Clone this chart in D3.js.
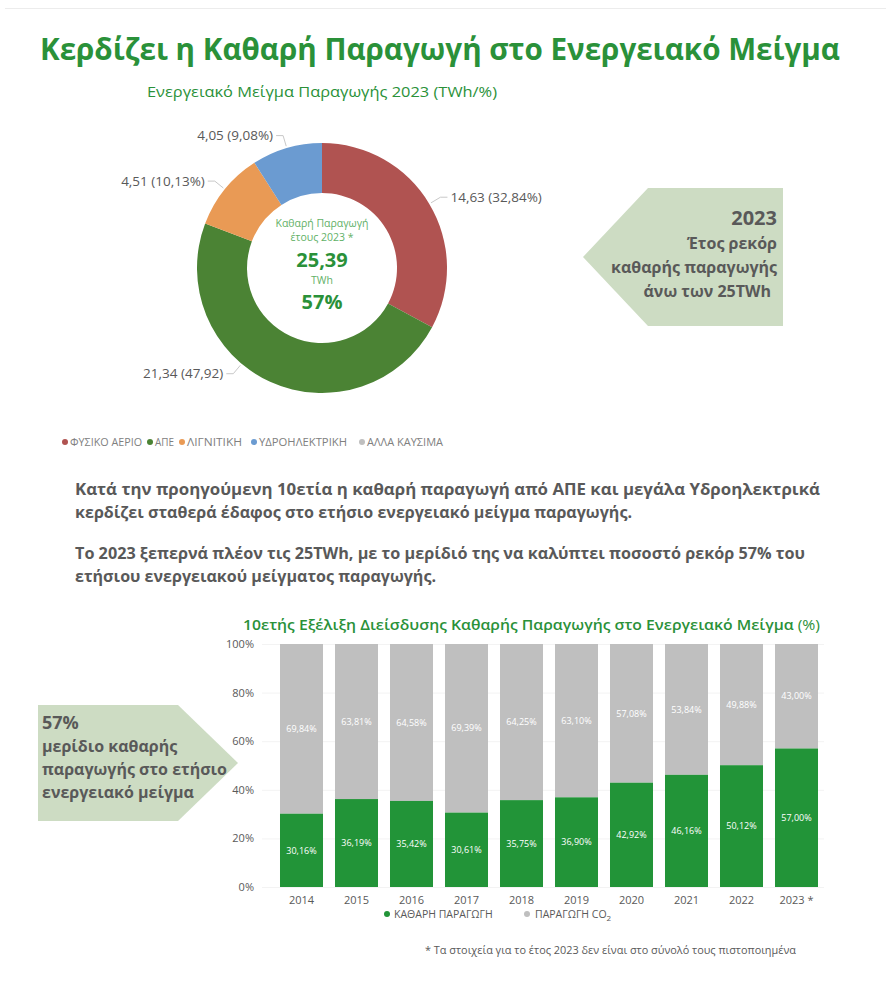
<!DOCTYPE html>
<html>
<head>
<meta charset="utf-8">
<script src="https://cdn.jsdelivr.net/npm/d3@7"></script>
<style>
  html, body { margin: 0; padding: 0; background: #fff; }
  svg { display: block; font-family: "Open Sans", "Noto Sans", sans-serif; }
</style>
</head>
<body>
<svg id="chart" width="895" height="1000"></svg>
<script>
// ---------- DATA ----------
const mixCategories = ["ΦΥΣΙΚΟ ΑΕΡΙΟ", "ΑΠΕ", "ΛΙΓΝΙΤΙΚΗ", "ΥΔΡΟΗΛΕΚΤΡΙΚΗ", "ΑΛΛΑ ΚΑΥΣΙΜΑ"];
const mixTWh = [14.63, 21.34, 4.51, 4.05, 0];
const mixLabels = ["14,63 (32,84%)", "21,34 (47,92)", "4,51 (10,13%)", "4,05 (9,08%)", ""];
const mixColors = ["#b05351", "#4b8334", "#e99a55", "#6b9bd1", "#bfbfbf"];

const years = ["2014", "2015", "2016", "2017", "2018", "2019", "2020", "2021", "2022", "2023 *"];
const cleanShare = [30.16, 36.19, 35.42, 30.61, 35.75, 36.90, 42.92, 46.16, 50.12, 57.00];
const co2Share = [69.84, 63.81, 64.58, 69.39, 64.25, 63.10, 57.08, 53.84, 49.88, 43.00];
const yTicks = [0, 20, 40, 60, 80, 100];
const barSeries = ["ΚΑΘΑΡΗ ΠΑΡΑΓΩΓΗ", "ΠΑΡΑΓΩΓΗ CO2"];
const barColors = ["#229438", "#bfbfbf"];

const GREEN = "#2a9139";
const GREY_TXT = "#595959";

const svg = d3.select("#chart");
const fmt = v => d3.format(".2f")(v).replace(".", ",") + "%";

// faint page frame line
svg.append("line").attr("x1", 5).attr("x2", 886).attr("y1", 8.5).attr("y2", 8.5)
  .attr("stroke", "#ececec").attr("stroke-width", 1);

// ---------- TITLE ----------
svg.append("text").attr("x", 40).attr("y", 60)
  .attr("font-size", 30).attr("font-weight", 700).attr("fill", GREEN)
  .attr("textLength", 800).attr("lengthAdjust", "spacingAndGlyphs")
  .text("Κερδίζει η Καθαρή Παραγωγή στο Ενεργειακό Μείγμα");

svg.append("text").attr("x", 147).attr("y", 97)
  .attr("font-size", 15).attr("font-weight", 400).attr("fill", GREEN)
  .attr("textLength", 350).attr("lengthAdjust", "spacingAndGlyphs")
  .text("Ενεργειακό Μείγμα Παραγωγής 2023 (TWh/%)");

// ---------- DONUT ----------
const cx = 322, cy = 268, rOuter = 125, rInner = 75;
const pie = d3.pie().sort(null).value(d => d.v);
const pieData = pie(mixCategories.map((c, i) => ({ c, v: mixTWh[i], label: mixLabels[i], color: mixColors[i] })));
const arc = d3.arc().innerRadius(rInner).outerRadius(rOuter);
const gPie = svg.append("g").attr("transform", `translate(${cx},${cy})`);
gPie.selectAll("path").data(pieData.filter(d => d.data.v > 0)).join("path")
  .attr("d", arc).attr("fill", d => d.data.color).attr("stroke", "none");

// label placement angle tweaks (layout only)
const labelAngleShift = { "ΑΠΕ": 0.27 };
pieData.filter(d => d.data.v > 0).forEach(d => {
  const a = (d.startAngle + d.endAngle) / 2 + (labelAngleShift[d.data.c] || 0);
  const p1 = [Math.sin(a) * (rOuter + 2), -Math.cos(a) * (rOuter + 2)];
  const p2 = [Math.sin(a) * (rOuter + 13), -Math.cos(a) * (rOuter + 13)];
  const right = Math.sin(a) > 0;
  const p3 = [p2[0] + (right ? 7 : -7), p2[1]];
  gPie.append("polyline").attr("points", [p1, p2, p3].map(p => p.join(",")).join(" "))
    .attr("fill", "none").attr("stroke", "#c8c8c8").attr("stroke-width", 1);
  gPie.append("text").attr("x", p3[0] + (right ? 3 : -3)).attr("y", p3[1])
    .attr("dy", "0.35em").attr("text-anchor", right ? "start" : "end")
    .attr("font-size", 13.5).attr("fill", GREY_TXT).text(d.data.label);
});

// centre text
const ctr = svg.append("g").attr("text-anchor", "middle");
ctr.append("text").attr("x", cx).attr("y", cy - 41).attr("font-size", 10.5).attr("fill", "#62b167").text("Καθαρή Παραγωγή");
ctr.append("text").attr("x", cx).attr("y", cy - 27).attr("font-size", 10.5).attr("fill", "#62b167").text("έτους 2023 *");
ctr.append("text").attr("x", cx).attr("y", cy - 1).attr("font-size", 20).attr("font-weight", 700).attr("fill", GREEN).text("25,39");
ctr.append("text").attr("x", cx).attr("y", cy + 16).attr("font-size", 10.5).attr("fill", "#62b167").text("TWh");
ctr.append("text").attr("x", cx).attr("y", cy + 41).attr("font-size", 20).attr("font-weight", 700).attr("fill", GREEN).text("57%");

// donut legend
const legMarkX = [65, 150, 182, 254, 362];
const legTextW = [72, 19, 55, 88, 76];
const gLeg = svg.append("g");
mixCategories.forEach((c, i) => {
  gLeg.append("circle").attr("cx", legMarkX[i]).attr("cy", 442).attr("r", 3).attr("fill", mixColors[i]);
  gLeg.append("text").attr("x", legMarkX[i] + 5).attr("y", 442).attr("dy", "0.36em")
    .attr("font-size", 10.5).attr("fill", "#808080")
    .attr("textLength", legTextW[i]).attr("lengthAdjust", "spacingAndGlyphs").text(c);
});

// right callout (arrow pointing left)
svg.append("polygon")
  .attr("points", "583,257 648,188 783,188 783,326 648,326")
  .attr("fill", "#cddcc3");
const rc = svg.append("g").attr("text-anchor", "end").attr("fill", GREY_TXT).attr("font-weight", 700);
rc.append("text").attr("x", 777).attr("y", 225).attr("font-size", 20).text("2023");
rc.append("text").attr("x", 777).attr("y", 249).attr("font-size", 16).text("Έτος ρεκόρ");
rc.append("text").attr("x", 777).attr("y", 273).attr("font-size", 16).text("καθαρής παραγωγής");
rc.append("text").attr("x", 771).attr("y", 297).attr("font-size", 16).text("άνω των 25TWh");

// ---------- PARAGRAPH ----------
const paraLines = [
  ["Κατά την προηγούμενη 10ετία η καθαρή παραγωγή από ΑΠΕ και μεγάλα Υδροηλεκτρικά", 495, 745],
  ["κερδίζει σταθερά έδαφος στο ετήσιο ενεργειακό μείγμα παραγωγής.", 518, 557],
  ["Το 2023 ξεπερνά πλέον τις 25TWh, με το μερίδιό της να καλύπτει ποσοστό ρεκόρ 57% του", 559, 730],
  ["ετήσιου ενεργειακού μείγματος παραγωγής.", 582, 361]
];
paraLines.forEach(([t, y, w]) => {
  svg.append("text").attr("x", 75).attr("y", y).attr("font-size", 15.5).attr("font-weight", 700)
    .attr("fill", GREY_TXT).attr("textLength", w).attr("lengthAdjust", "spacingAndGlyphs").text(t);
});

// ---------- BAR CHART ----------
const bt = svg.append("text").attr("x", 243).attr("y", 630).attr("font-size", 15).attr("fill", GREEN)
  .attr("textLength", 577).attr("lengthAdjust", "spacingAndGlyphs");
bt.append("tspan").attr("font-weight", 600).text("10ετής Εξέλιξη Διείσδυσης Καθαρής Παραγωγής στο Ενεργειακό Μείγμα ");
bt.append("tspan").attr("font-weight", 400).text("(%)");

const x = d3.scaleBand().domain(years).range([274, 824]).paddingInner(0.218).paddingOuter(0.109);
const y = d3.scaleLinear().domain([0, 100]).range([887, 644]);

const gGrid = svg.append("g");
gGrid.selectAll("line").data(yTicks).join("line")
  .attr("x1", 262).attr("x2", 824).attr("y1", d => y(d) + 0.5).attr("y2", d => y(d) + 0.5)
  .attr("stroke", "#f3f3f3");

const yAxis = svg.append("g").attr("transform", "translate(254,0)")
  .call(d3.axisLeft(y).tickValues(yTicks).tickFormat(d => d + "%").tickSize(0).tickPadding(0));
yAxis.select(".domain").remove();
yAxis.selectAll("text").attr("font-size", 11).attr("fill", GREY_TXT).attr("font-family", "Open Sans");

const rows = years.map((yr, i) => ({ yr, clean: cleanShare[i], co2: co2Share[i] }));
const gBars = svg.append("g");
gBars.selectAll("rect.co2").data(rows).join("rect").attr("class", "co2")
  .attr("x", d => x(d.yr)).attr("width", x.bandwidth())
  .attr("y", d => y(d.clean + d.co2)).attr("height", d => y(d.clean) - y(d.clean + d.co2))
  .attr("fill", barColors[1]);
gBars.selectAll("rect.clean").data(rows).join("rect").attr("class", "clean")
  .attr("x", d => x(d.yr)).attr("width", x.bandwidth())
  .attr("y", d => y(d.clean)).attr("height", d => y(0) - y(d.clean))
  .attr("fill", barColors[0]);

const gLab = svg.append("g").attr("text-anchor", "middle").attr("font-size", 9).attr("fill", "#fff");
gLab.selectAll("text.cl").data(rows).join("text").attr("class", "cl")
  .attr("x", d => x(d.yr) + x.bandwidth() / 2).attr("y", d => y(d.clean / 2)).attr("dy", "0.35em")
  .text(d => fmt(d.clean));
gLab.selectAll("text.co").data(rows).join("text").attr("class", "co")
  .attr("x", d => x(d.yr) + x.bandwidth() / 2).attr("y", d => y(d.clean + d.co2 / 2)).attr("dy", "0.35em")
  .text(d => fmt(d.co2));

const xAxis = svg.append("g").attr("transform", "translate(0,887)")
  .call(d3.axisBottom(x).tickSize(0).tickPadding(9));
xAxis.select(".domain").remove();
xAxis.selectAll("text").attr("font-size", 11).attr("fill", GREY_TXT).attr("font-family", "Open Sans");

// bar legend
const bl = svg.append("g").attr("font-size", 10.5).attr("fill", GREY_TXT);
bl.append("circle").attr("cx", 387).attr("cy", 914).attr("r", 3).attr("fill", barColors[0]);
bl.append("text").attr("x", 394).attr("y", 914).attr("dy", "0.35em").text(barSeries[0]);
bl.append("circle").attr("cx", 527).attr("cy", 914).attr("r", 3).attr("fill", barColors[1]);
const t2 = bl.append("text").attr("x", 535).attr("y", 914).attr("dy", "0.35em").text("ΠΑΡΑΓΩΓΗ CO");
t2.append("tspan").attr("font-size", 8).attr("dy", 3).text("2");

// left callout (arrow pointing right)
svg.append("polygon")
  .attr("points", "38,705 178,705 238,763 178,821 38,821")
  .attr("fill", "#cddcc3");
const lc = svg.append("g").attr("fill", GREY_TXT).attr("font-weight", 700);
lc.append("text").attr("x", 42).attr("y", 729).attr("font-size", 18).text("57%");
lc.append("text").attr("x", 42).attr("y", 752).attr("font-size", 16).text("μερίδιο καθαρής");
lc.append("text").attr("x", 42).attr("y", 775).attr("font-size", 16).text("παραγωγής στο ετήσιο");
lc.append("text").attr("x", 42).attr("y", 798).attr("font-size", 16).text("ενεργειακό μείγμα");

// footnote
svg.append("text").attr("x", 425).attr("y", 954).attr("font-size", 10).attr("fill", GREY_TXT)
  .attr("textLength", 371).attr("lengthAdjust", "spacingAndGlyphs")
  .text("*  Τα στοιχεία για το έτος 2023 δεν είναι στο σύνολό τους πιστοποιημένα");
</script>
</body>
</html>
